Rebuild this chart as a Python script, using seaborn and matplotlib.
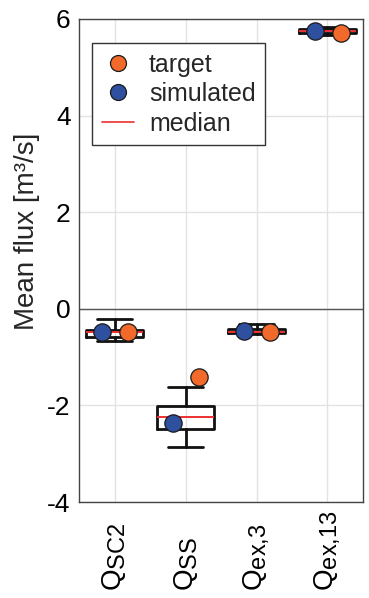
import matplotlib
matplotlib.use("Agg")
import matplotlib.pyplot as plt
import matplotlib._mathtext as _mt
import seaborn as sns
import pandas as pd
from matplotlib.lines import Line2D

# ---- data ----
categories = ["Q$_\\mathregular{SC2}$", "Q$_\\mathregular{SS}$",
              "Q$_\\mathregular{ex{,}3}$", "Q$_\\mathregular{ex{,}13}$"]
whisker_low = [-0.67, -2.87, -0.53, 5.66]
quartile1 = [-0.58, -2.49, -0.51, 5.70]
medians = [-0.49, -2.25, -0.48, 5.76]
quartile3 = [-0.43, -2.01, -0.42, 5.80]
whisker_high = [-0.21, -1.61, -0.31, 5.84]
target = [-0.48, -1.41, -0.48, 5.72]
simulated = [-0.49, -2.37, -0.46, 5.76]
yticks = [-4, -2, 0, 2, 4, 6]

# larger subscripts, like the reference
_mt.SHRINK_FACTOR = 0.85

sns.set_style("white")
plt.rcParams["font.family"] = ["Liberation Sans", "DejaVu Sans"]
plt.rcParams["axes.unicode_minus"] = False

fig = plt.figure(figsize=(3.69, 5.98), dpi=100)
ax = fig.add_axes([79 / 369, 96 / 598, 284 / 369, 483 / 598])

# grid
ax.set_axisbelow(True)
ax.grid(True, color="#e3e3e3", lw=1.0)
ax.axhline(0, color="#555555", lw=1.0, zorder=1)

positions = list(range(len(categories)))
stats = []
for i in positions:
    stats.append(dict(whislo=whisker_low[i], q1=quartile1[i], med=medians[i],
                      q3=quartile3[i], whishi=whisker_high[i], fliers=[]))
ax.bxp(stats, positions=positions, widths=0.8, capwidths=0.5, showfliers=False,
       patch_artist=False,
       boxprops=dict(color="#111111", lw=2.0),
       whiskerprops=dict(color="#111111", lw=2.0, ls="-"),
       capprops=dict(color="#111111", lw=2.0),
       medianprops=dict(color="#ee3030", lw=1.4), zorder=3)

orange = "#f26a2b"
blue = "#2f4f9f"
df_sim = pd.DataFrame({"x": [p - 0.17 for p in positions], "y": simulated})
df_tgt = pd.DataFrame({"x": [p + 0.19 for p in positions], "y": target})
sns.scatterplot(data=df_sim, x="x", y="y", ax=ax, color=blue, s=155,
                edgecolor="#1a1a1a", linewidth=0.9, zorder=4, legend=False)
sns.scatterplot(data=df_tgt, x="x", y="y", ax=ax, color=orange, s=155,
                edgecolor="#1a1a1a", linewidth=0.9, zorder=4, legend=False)

ax.set_xlim(-0.5, 3.5)
ax.set_ylim(-4, 6)
ax.set_yticks(yticks)
ax.set_yticklabels([str(v) for v in yticks])
ax.set_xticks(positions)
ax.set_xticklabels(categories, rotation=90, rotation_mode="anchor",
                   ha="left", va="center", fontsize=20)
ax.set_xlabel("")
ax.set_ylabel("Mean flux [m³/s]", fontsize=20)
ax.yaxis.set_label_coords(-0.137, 0.561)

ax.tick_params(axis="both", direction="in", length=3, width=0.8,
               color="#555555", labelsize=19, labelcolor="black")
ax.tick_params(axis="y", pad=6)
ax.tick_params(axis="x", pad=64, labelsize=20)

for sp in ax.spines.values():
    sp.set_visible(True)
    sp.set_color("#444444")
    sp.set_linewidth(1.0)

handles = [
    Line2D([], [], ls="none", marker="o", markersize=11.5, markerfacecolor=orange,
           markeredgecolor="#1a1a1a", markeredgewidth=0.9),
    Line2D([], [], ls="none", marker="o", markersize=11.5, markerfacecolor=blue,
           markeredgecolor="#1a1a1a", markeredgewidth=0.9),
    Line2D([], [], color="#ee3030", lw=1.2),
]
leg = ax.legend(handles, ["target", "simulated", "median"], loc="upper left",
                bbox_to_anchor=(0.046, 0.95), borderaxespad=0, fontsize=18,
                handlelength=1.3, handletextpad=0.6, labelspacing=0.22,
                borderpad=0.38, fancybox=False, framealpha=1,
                edgecolor="#333333")
leg.get_frame().set_linewidth(1.0)

fig.savefig("out.png", dpi=100)
